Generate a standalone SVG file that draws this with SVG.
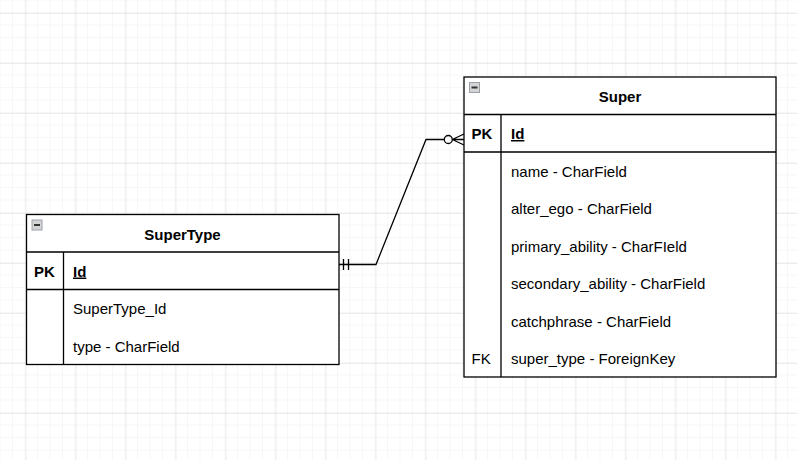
<svg xmlns="http://www.w3.org/2000/svg" width="797" height="460" viewBox="0 0 797 460">
<defs>
<pattern id="minor" x="0.5" y="0.5" width="12.5" height="12.5" patternUnits="userSpaceOnUse">
<path d="M12.5 0V12.5M0 12.5H12.5" fill="none" stroke="#efefef" stroke-width="1"/>
</pattern>
<pattern id="major" x="25.5" y="13" width="50" height="50" patternUnits="userSpaceOnUse">
<path d="M0 0V50M0 0H50" fill="none" stroke="#d9d9d9" stroke-width="1"/>
</pattern>
<g id="icon">
<rect x="0.5" y="0.5" width="10" height="10" fill="#d4d4d4" stroke="#9aa0a8" stroke-width="1"/>
<rect x="2.5" y="4.5" width="6" height="2" fill="#333"/>
</g>
</defs>
<style>
.box{fill:#fff;stroke:#000;stroke-width:1.3}
.ln{fill:none;stroke:#000;stroke-width:1.3}
.t{font-family:"Liberation Sans",Arial,sans-serif;font-size:15px;fill:#000}
.b{font-weight:bold}
.h{font-weight:bold;text-anchor:middle}
.u{font-weight:bold;text-decoration:underline}
.conn{fill:none;stroke:#000;stroke-width:1.3}
</style>
<rect width="797" height="460" fill="#fff"/>
<rect width="797" height="460" fill="url(#minor)"/>
<rect width="797" height="460" fill="url(#major)"/>

<g id="connectors">
<path class="conn" d="M339 264.5H376L426 139.5H444"/>
<circle class="conn" cx="448.3" cy="139.5" r="4" fill="#fff"/>
<path class="conn" d="M452.3 139.5H464M452.3 139.5L464 134M452.3 139.5L464 145"/>
<path class="conn" d="M343.5 259V270M348.5 259V270"/>
</g>

<g id="SuperType">
<rect class="box" x="26.5" y="214.5" width="312.5" height="150"/>
<path class="ln" d="M26.5 252H339M26.5 289.5H339M63.5 252V364.5"/>
<use href="#icon" x="31.5" y="219.5"/>
<text class="t h" x="182.5" y="239.5">SuperType</text>
<text class="t b" x="34" y="276.5">PK</text>
<text class="t u" x="73" y="276.5">Id</text>
<text class="t" x="73" y="314">SuperType_Id</text>
<text class="t" x="73" y="351.5">type - CharField</text>
</g>

<g id="Super">
<rect class="box" x="464" y="77" width="312" height="300"/>
<path class="ln" d="M464 114.5H776M464 152H776M501 114.5V377"/>
<use href="#icon" x="469" y="82"/>
<text class="t h" x="620" y="102">Super</text>
<text class="t b" x="471.5" y="139">PK</text>
<text class="t u" x="511" y="139">Id</text>
<text class="t" x="511" y="176.5">name - CharField</text>
<text class="t" x="511" y="214">alter_ego - CharField</text>
<text class="t" x="511" y="251.5">primary_ability - CharFIeld</text>
<text class="t" x="511" y="289">secondary_ability - CharField</text>
<text class="t" x="511" y="326.5">catchphrase - CharField</text>
<text class="t" x="471.5" y="364">FK</text>
<text class="t" x="511" y="364">super_type - ForeignKey</text>
</g>
</svg>
